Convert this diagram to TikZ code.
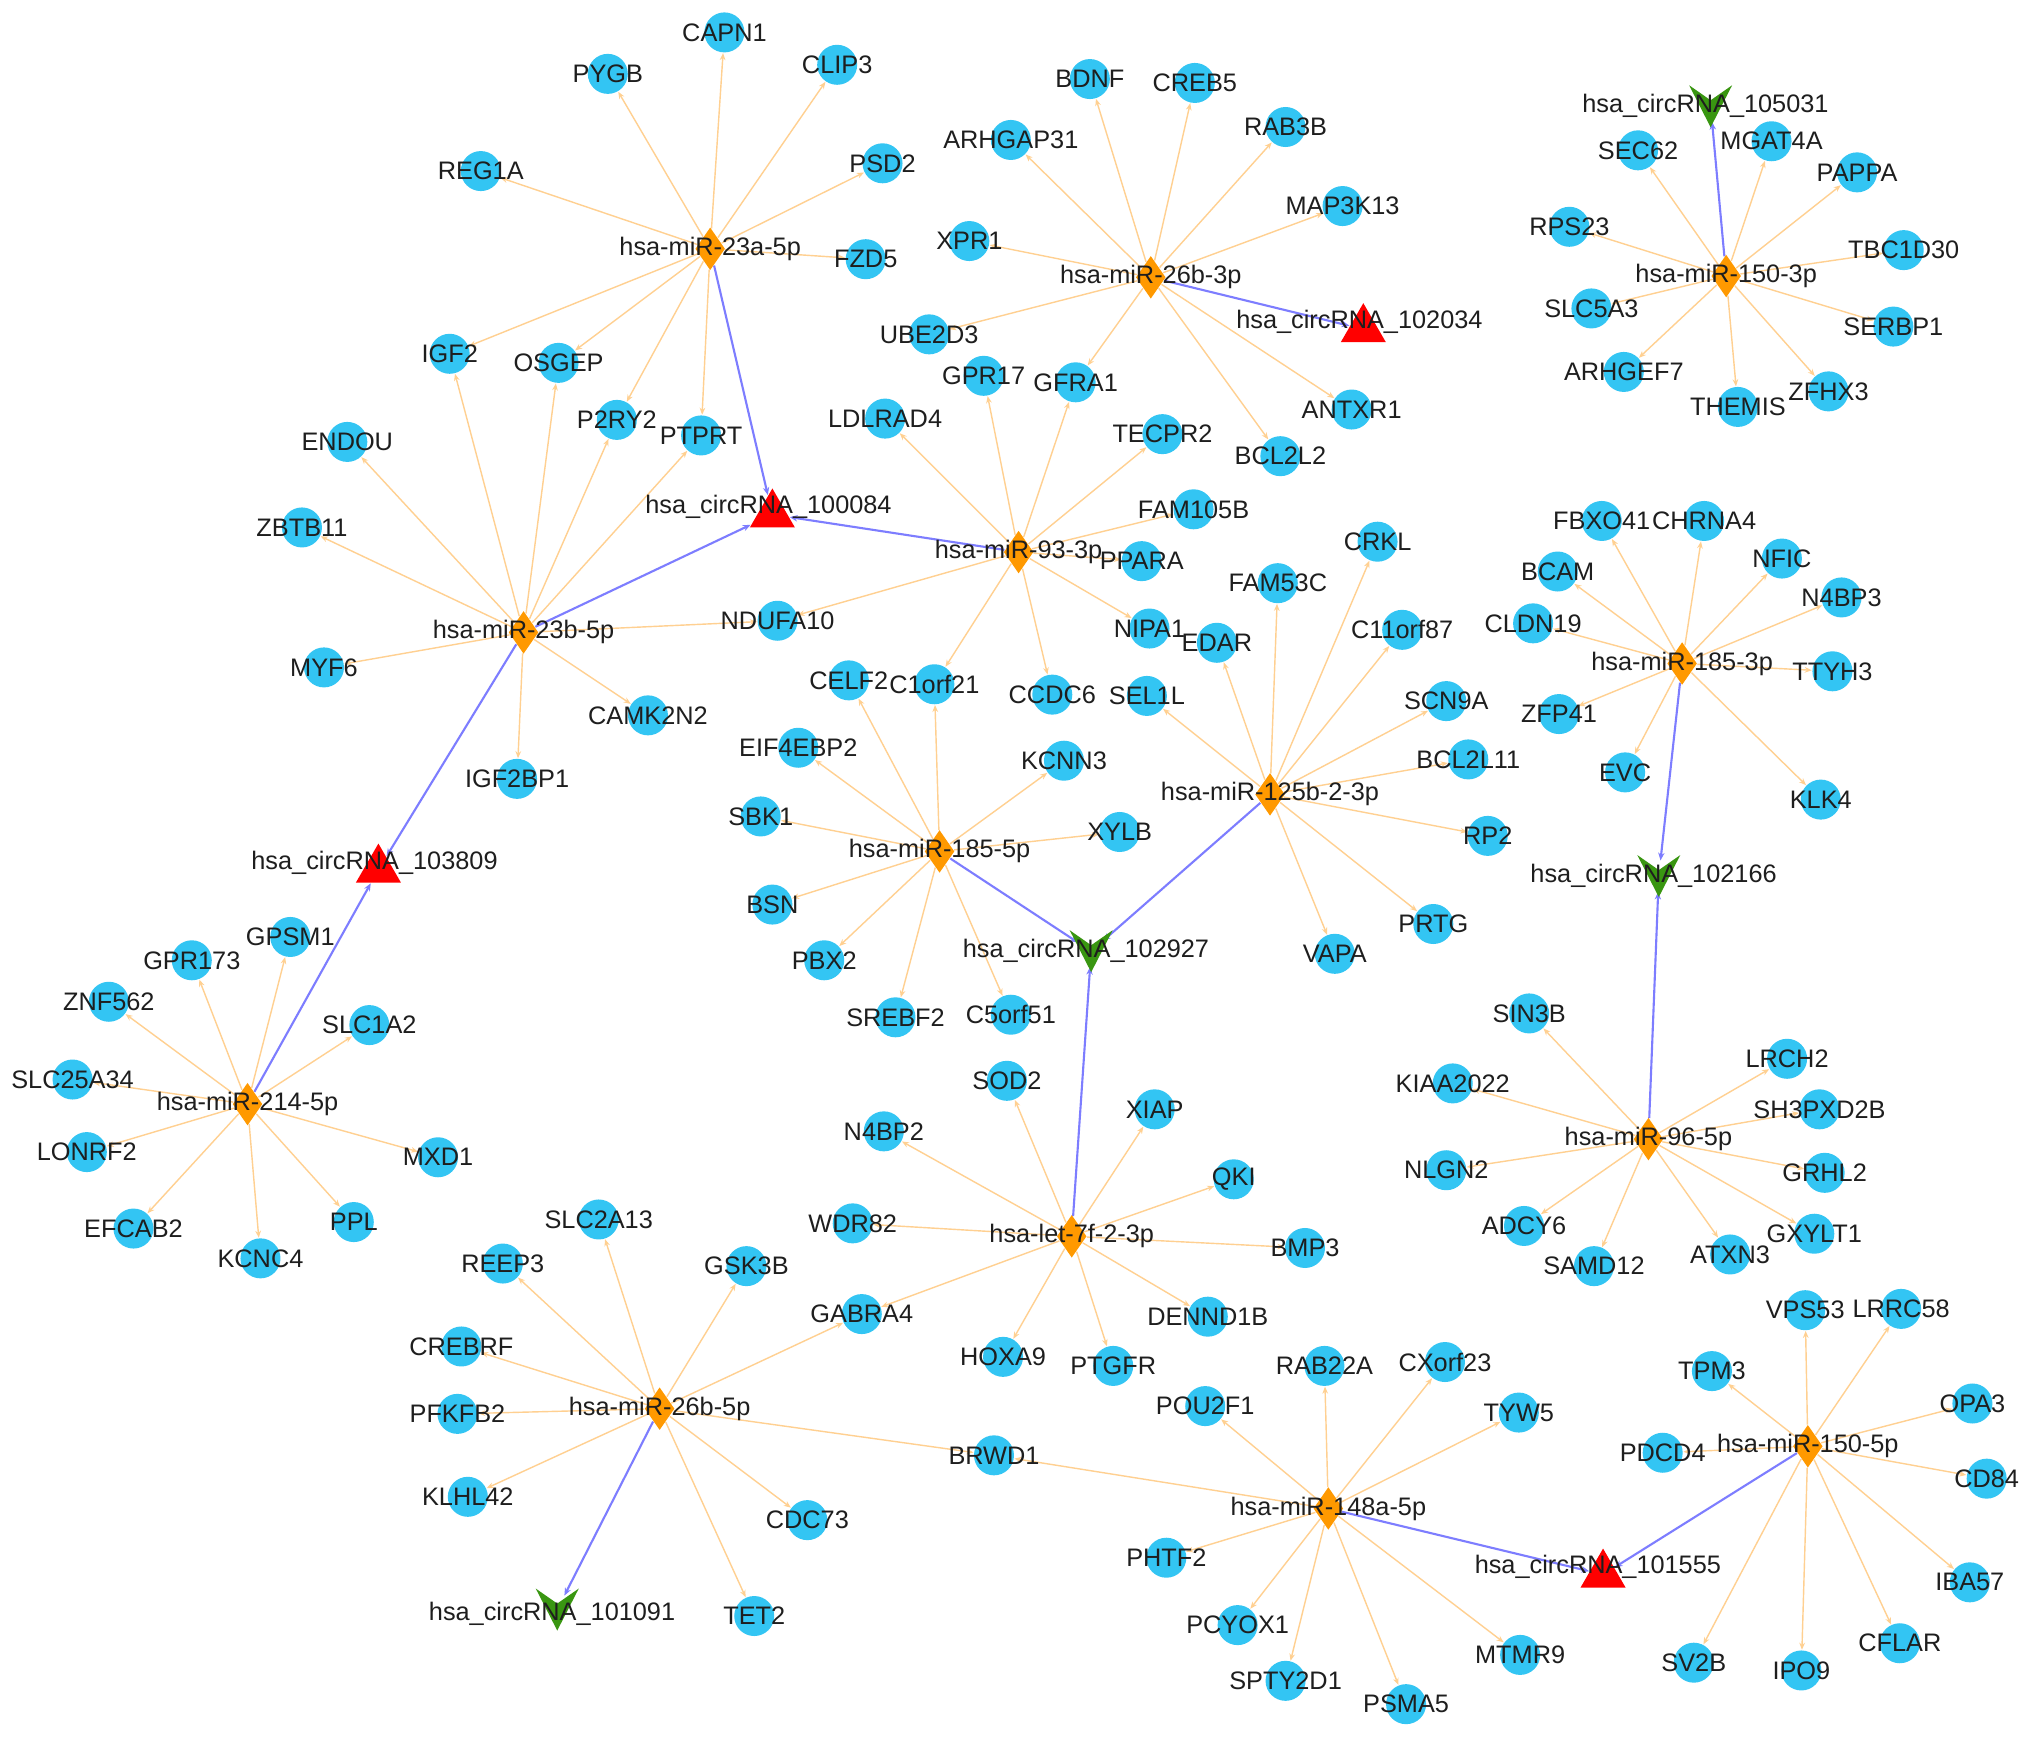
\documentclass[tikz,border=0pt]{standalone}
\usepackage{fontspec}
\setmainfont{Liberation Sans}
\usetikzlibrary{shapes.geometric,arrows.meta}
\definecolor{genec}{RGB}{51,197,243}
\definecolor{mirc}{RGB}{255,153,0}
\definecolor{circred}{RGB}{255,0,0}
\definecolor{vgreen}{RGB}{57,150,17}
\definecolor{edgeo}{RGB}{255,208,145}
\definecolor{edgeb}{RGB}{125,125,255}
\definecolor{labc}{RGB}{30,30,30}
\pgfdeclarelayer{bg}
\pgfdeclarelayer{edges}
\pgfdeclarelayer{fg}
\pgfsetlayers{bg,edges,main,fg}
\tikzset{
  gene/.style={circle,fill=genec,draw=none,minimum size=0.40cm,inner sep=0pt},
  mirna/.style={diamond,fill=mirc,draw=none,minimum width=0.30cm,minimum height=0.43cm,inner sep=0pt},
  tri/.style={regular polygon,regular polygon sides=3,fill=circred,draw=none,minimum size=0.52cm,inner sep=0pt},
  vnode/.style={circle,draw=none,minimum size=0.30cm,inner sep=0pt},
  lab/.style={font=\fontsize{7.2}{8}\selectfont,text=labc,inner sep=0pt},
  oedge/.style={draw=edgeo,line width=0.4pt,-{Stealth[length=2pt,width=1.6pt]}},
  bedge/.style={draw=edgeb,line width=0.6pt,-{Stealth[length=2.2pt,width=1.8pt]}},
  vee/.pic={\fill[vgreen] (-0.215cm,0.21cm) -- (0cm,0.06cm) -- (0.215cm,0.21cm) -- (0cm,-0.21cm) -- cycle;}
}
\newcommand\gn[2]{\node[gene] (#1) at (#2) {};\begin{pgfonlayer}{fg}\node[lab] (#1t) at (#2) {#1};\end{pgfonlayer}}
\newcommand\mi[3]{\node[mirna] (#1) at (#2) {};\begin{pgfonlayer}{fg}\node[lab] (#1t) at (#2) {#3};\end{pgfonlayer}}
\newcommand\ctri[4]{\node[tri] (#1) at (#3) {};\begin{pgfonlayer}{fg}\node[lab] (#1t) at (#2) {hsa\_circRNA\_#4};\end{pgfonlayer}}
\newcommand\cvee[4]{\pic at (#3) {vee};\node[vnode] (#1) at (#3) {};\begin{pgfonlayer}{fg}\node[lab] (#1t) at (#2) {hsa\_circRNA\_#4};\end{pgfonlayer}}
\begin{document}
\begin{tikzpicture}[x=0.012959cm,y=-0.012959cm]
\begin{pgfonlayer}{bg}
\path[use as bounding box,fill=white] (0,0) rectangle (1568,1343);
\end{pgfonlayer}
% miRNAs
\mi{m23a}{548,192}{hsa-miR-23a-5p}
\mi{m26bt}{888,214}{hsa-miR-26b-3p}
\mi{m150t}{1332,213}{hsa-miR-150-3p}
\mi{m93}{786,426}{hsa-miR-93-3p}
\mi{m23b}{404,488}{hsa-miR-23b-5p}
\mi{m185t}{1298,512}{hsa-miR-185-3p}
\mi{m125}{980,613}{hsa-miR-125b-2-3p}
\mi{m185f}{725,657}{hsa-miR-185-5p}
\mi{m214}{191,852}{hsa-miR-214-5p}
\mi{mlet}{827,954}{hsa-let-7f-2-3p}
\mi{m96}{1272,879}{hsa-miR-96-5p}
\mi{m26bf}{509,1087}{hsa-miR-26b-5p}
\mi{m148}{1025,1164}{hsa-miR-148a-5p}
\mi{m150f}{1395,1116}{hsa-miR-150-5p}
% circRNAs
\cvee{cA}{1316,82}{1320,82}{105031}
\ctri{cB}{1049,248}{1052,254}{102034}
\ctri{cC}{593,391}{596,397}{100084}
\ctri{cD}{289,666}{292,671}{103809}
\cvee{cE}{838,734}{842,734}{102927}
\cvee{cF}{1276,676}{1280,676}{102166}
\cvee{cG}{426,1245}{430,1242}{101091}
\ctri{cH}{1233,1209}{1237,1215}{101555}
% genes
\gn{CAPN1}{559,25}
\gn{PYGB}{469,57}
\gn{CLIP3}{646,50}
\gn{REG1A}{371,132}
\gn{PSD2}{681,126}
\gn{FZD5}{668,200}
\gn{IGF2}{347,273}
\gn{OSGEP}{431,280}
\gn{P2RY2}{476,324}
\gn{PTPRT}{541,336}
\gn{BDNF}{841,61}
\gn{CREB5}{922,64}
\gn{RAB3B}{992,98}
\gn{ARHGAP31}{780,108}
\gn{MAP3K13}{1036,159}
\gn{XPR1}{748,186}
\gn{UBE2D3}{717,258}
\gn{GFRA1}{830,295}
\gn{ANTXR1}{1043,316}
\gn{BCL2L2}{988,352}
\gn{SEC62}{1264,116}
\gn{MGAT4A}{1367,109}
\gn{PAPPA}{1433,133}
\gn{RPS23}{1211,175}
\gn{TBC1D30}{1469,193}
\gn{SLC5A3}{1228,238}
\gn{SERBP1}{1461,252}
\gn{ARHGEF7}{1253,287}
\gn{THEMIS}{1341,314}
\gn{ZFHX3}{1411,302}
\gn{GPR17}{759,290}
\gn{LDLRAD4}{683,323}
\gn{TECPR2}{897,335}
\gn{FAM105B}{921,393}
\gn{PPARA}{881,433}
\gn{NDUFA10}{600,479}
\gn{NIPA1}{887,485}
\gn{CELF2}{655,525}
\gn{C1orf21}{721,528}
\gn{CCDC6}{812,536}
\gn{ENDOU}{268,341}
\gn{ZBTB11}{233,407}
\gn{MYF6}{250,515}
\gn{CAMK2N2}{500,552}
\gn{IGF2BP1}{399,601}
\gn{FBXO41}{1236,402}
\gn{CHRNA4}{1315,402}
\gn{BCAM}{1202,441}
\gn{NFIC}{1375,431}
\gn{N4BP3}{1421,461}
\gn{CLDN19}{1183,481}
\gn{TTYH3}{1414,518}
\gn{ZFP41}{1203,551}
\gn{EVC}{1254,596}
\gn{KLK4}{1405,617}
\gn{CRKL}{1063,418}
\gn{FAM53C}{986,450}
\gn{C11orf87}{1082,486}
\gn{EDAR}{939,496}
\gn{SEL1L}{885,537}
\gn{SCN9A}{1116,541}
\gn{BCL2L11}{1133,586}
\gn{RP2}{1148,645}
\gn{PRTG}{1106,713}
\gn{VAPA}{1030,736}
\gn{EIF4EBP2}{616,577}
\gn{KCNN3}{821,587}
\gn{SBK1}{587,630}
\gn{XYLB}{864,642}
\gn{BSN}{596,698}
\gn{PBX2}{636,741}
\gn{SREBF2}{691,785}
\gn{C5orf51}{780,783}
\gn{GPSM1}{224,723}
\gn{GPR173}{148,741}
\gn{ZNF562}{84,773}
\gn{SLC1A2}{285,791}
\gn{SLC25A34}{56,833}
\gn{MXD1}{338,893}
\gn{LONRF2}{67,889}
\gn{EFCAB2}{103,948}
\gn{PPL}{273,943}
\gn{KCNC4}{201,971}
\gn{SOD2}{777,834}
\gn{XIAP}{891,856}
\gn{N4BP2}{682,873}
\gn{QKI}{952,910}
\gn{WDR82}{658,944}
\gn{BMP3}{1007,963}
\gn{GABRA4}{665,1014}
\gn{DENND1B}{932,1016}
\gn{HOXA9}{774,1047}
\gn{PTGFR}{859,1054}
\gn{SIN3B}{1180,782}
\gn{LRCH2}{1379,817}
\gn{KIAA2022}{1121,836}
\gn{SH3PXD2B}{1404,856}
\gn{NLGN2}{1116,903}
\gn{GRHL2}{1408,905}
\gn{ADCY6}{1176,946}
\gn{GXYLT1}{1400,952}
\gn{SAMD12}{1230,977}
\gn{ATXN3}{1335,968}
\gn{SLC2A13}{462,941}
\gn{REEP3}{388,975}
\gn{GSK3B}{576,977}
\gn{CREBRF}{356,1039}
\gn{PFKFB2}{353,1091}
\gn{KLHL42}{361,1155}
\gn{CDC73}{623,1173}
\gn{TET2}{582,1247}
\gn{BRWD1}{767,1123}
\gn{RAB22A}{1022,1054}
\gn{CXorf23}{1115,1051}
\gn{POU2F1}{930,1085}
\gn{TYW5}{1172,1090}
\gn{PHTF2}{900,1202}
\gn{PCYOX1}{955,1254}
\gn{SPTY2D1}{992,1297}
\gn{PSMA5}{1085,1315}
\gn{MTMR9}{1173,1277}
\gn{VPS53}{1393,1011}
\gn{LRRC58}{1467,1010}
\gn{TPM3}{1321,1058}
\gn{OPA3}{1522,1083}
\gn{PDCD4}{1283,1121}
\gn{CD84}{1533,1141}
\gn{IBA57}{1520,1221}
\gn{CFLAR}{1466,1268}
\gn{SV2B}{1307,1283}
\gn{IPO9}{1390,1289}
% edges
\begin{pgfonlayer}{edges}
\foreach \t in {CAPN1,PYGB,CLIP3,REG1A,PSD2,FZD5,IGF2,OSGEP,P2RY2,PTPRT} \draw[oedge] (m23a) -- (\t);
\foreach \t in {BDNF,CREB5,RAB3B,ARHGAP31,MAP3K13,XPR1,UBE2D3,GFRA1,ANTXR1,BCL2L2} \draw[oedge] (m26bt) -- (\t);
\foreach \t in {SEC62,MGAT4A,PAPPA,RPS23,TBC1D30,SLC5A3,SERBP1,ARHGEF7,THEMIS,ZFHX3} \draw[oedge] (m150t) -- (\t);
\foreach \t in {GPR17,GFRA1,LDLRAD4,TECPR2,FAM105B,PPARA,NDUFA10,NIPA1,C1orf21,CCDC6} \draw[oedge] (m93) -- (\t);
\foreach \t in {ENDOU,ZBTB11,MYF6,IGF2,OSGEP,P2RY2,PTPRT,NDUFA10,CAMK2N2,IGF2BP1} \draw[oedge] (m23b) -- (\t);
\foreach \t in {FBXO41,CHRNA4,BCAM,NFIC,N4BP3,CLDN19,TTYH3,ZFP41,EVC,KLK4} \draw[oedge] (m185t) -- (\t);
\foreach \t in {CRKL,FAM53C,C11orf87,EDAR,SEL1L,SCN9A,BCL2L11,RP2,PRTG,VAPA} \draw[oedge] (m125) -- (\t);
\foreach \t in {C1orf21,CELF2,EIF4EBP2,KCNN3,SBK1,XYLB,BSN,PBX2,SREBF2,C5orf51} \draw[oedge] (m185f) -- (\t);
\foreach \t in {GPSM1,GPR173,ZNF562,SLC1A2,SLC25A34,MXD1,LONRF2,EFCAB2,PPL,KCNC4} \draw[oedge] (m214) -- (\t);
\foreach \t in {SOD2,XIAP,N4BP2,QKI,WDR82,BMP3,GABRA4,DENND1B,HOXA9,PTGFR} \draw[oedge] (mlet) -- (\t);
\foreach \t in {SIN3B,LRCH2,KIAA2022,SH3PXD2B,NLGN2,GRHL2,ADCY6,GXYLT1,SAMD12,ATXN3} \draw[oedge] (m96) -- (\t);
\foreach \t in {SLC2A13,REEP3,GSK3B,GABRA4,CREBRF,PFKFB2,KLHL42,CDC73,TET2,BRWD1} \draw[oedge] (m26bf) -- (\t);
\foreach \t in {BRWD1,RAB22A,CXorf23,POU2F1,TYW5,PHTF2,PCYOX1,SPTY2D1,PSMA5,MTMR9} \draw[oedge] (m148) -- (\t);
\foreach \t in {VPS53,LRRC58,TPM3,OPA3,PDCD4,CD84,IBA57,CFLAR,SV2B,IPO9} \draw[oedge] (m150f) -- (\t);
\draw[bedge] (m150t) -- (cA);
\draw[bedge] (m26bt) -- (cB);
\draw[bedge] (m23a) -- (cC);
\draw[bedge] (m93) -- (cC);
\draw[bedge] (m23b) -- (cC);
\draw[bedge] (m23b) -- (cD);
\draw[bedge] (m214) -- (cD);
\draw[bedge] (m185f) -- (cE);
\draw[bedge] (m125) -- (cE);
\draw[bedge] (mlet) -- (cE);
\draw[bedge] (m185t) -- (cF);
\draw[bedge] (m96) -- (cF);
\draw[bedge] (m26bf) -- (cG);
\draw[bedge] (m148) -- (cH);
\draw[bedge] (m150f) -- (cH);
\end{pgfonlayer}
\end{tikzpicture}
\end{document}
